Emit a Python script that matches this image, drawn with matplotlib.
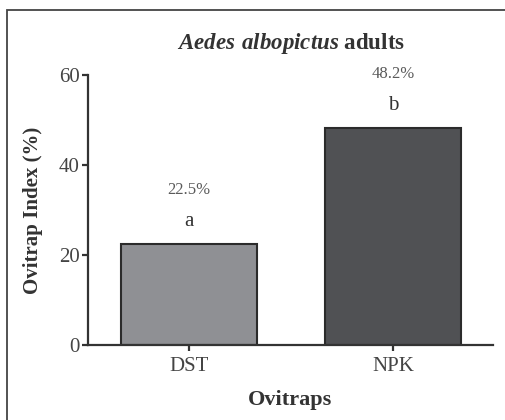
import matplotlib.pyplot as plt
from matplotlib.patches import Rectangle

plt.rcParams['font.family'] = 'Liberation Serif'
plt.rcParams['mathtext.fontset'] = 'custom'
plt.rcParams['mathtext.rm'] = 'Liberation Serif'
plt.rcParams['mathtext.bf'] = 'Liberation Serif:bold'
plt.rcParams['mathtext.bfit'] = 'Liberation Serif:italic:bold'

# 数据
traps = ['DST', 'NPK']
index_pct = [22.5, 48.2]
groups = ['a', 'b']
bar_colors = ['#8f9094', '#505154']

fig = plt.figure(figsize=(5.05, 4.2), dpi=100)
ax = fig.add_axes([0.174, 0.179, 0.802, 0.642])

x = range(len(traps))
bars = ax.bar(x, index_pct, width=0.667, color=bar_colors,
              edgecolor='#2b2b2b', linewidth=1.5, zorder=2)

for rect, v, g in zip(bars, index_pct, groups):
    cx = rect.get_x() + rect.get_width() / 2
    ax.annotate(g, (cx, v), xytext=(0, 16), textcoords='offset points',
                ha='center', va='center', fontsize=15, color='#333333')
    ax.annotate(f'{v}%', (cx, v), xytext=(0, 39), textcoords='offset points',
                ha='center', va='center', fontsize=12, color='#5a5a5a')

ax.set_xlim(-0.495, 1.49)
ax.set_ylim(0, 60)
ax.set_yticks([0, 20, 40, 60])
ax.set_xticks(list(x))
ax.set_xticklabels(traps)

for s in ['top', 'right']:
    ax.spines[s].set_visible(False)
for s in ['left', 'bottom']:
    ax.spines[s].set_linewidth(1.6)
    ax.spines[s].set_color('#333333')
ax.tick_params(axis='both', direction='out', length=4, width=1.6,
               color='#333333', labelsize=15, labelcolor='#444444', pad=2)
ax.tick_params(axis='x', pad=5)

ax.set_ylabel('Ovitrap Index (%)', fontsize=15, fontweight='bold',
              color='#333333', labelpad=11)
ax.set_xlabel('Ovitraps', fontsize=16, fontweight='bold',
              color='#333333', labelpad=10)

fig.text(0.576, 0.897, r'$\mathbfit{Aedes\ albopictus}$ adults',
         ha='center', va='center', fontsize=16.5, fontweight='bold',
         color='#333333')

# 外框
fig.patches.append(Rectangle((7 / 505, -0.1), 1.2, 0.1 + (420 - 10) / 420,
                             transform=fig.transFigure, fill=False,
                             edgecolor='#444444', linewidth=1.3))

plt.savefig('out.png', dpi=100)
